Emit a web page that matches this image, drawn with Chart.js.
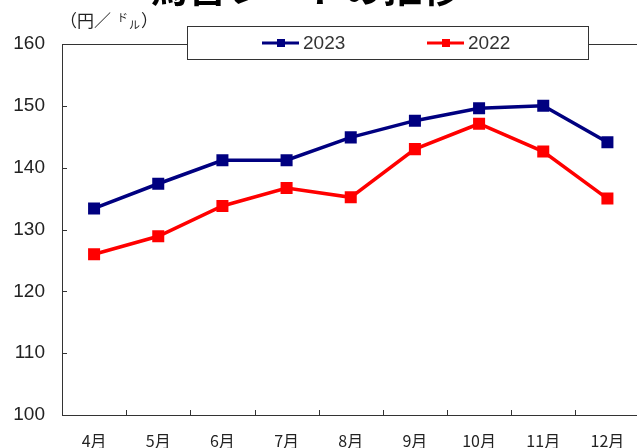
<!DOCTYPE html>
<html lang="ja">
<head>
<meta charset="utf-8">
<title>為替レートの推移</title>
<script src="https://cdn.jsdelivr.net/npm/chart.js@4/dist/chart.umd.min.js"></script>
<style>
  html, body { margin: 0; padding: 0; background: #fff; overflow: hidden; }
  canvas { display: block; }
</style>
</head>
<body>
<canvas id="fxChart" width="648" height="448"></canvas>
<script>
const TITLE = '為替レートの推移';
const months = ['4月', '5月', '6月', '7月', '8月', '9月', '10月', '11月', '12月'];
const rate2023 = [133.4, 137.4, 141.2, 141.2, 144.9, 147.6, 149.6, 150.0, 144.1];
const rate2022 = [126.0, 128.9, 133.8, 136.7, 135.2, 143.0, 147.1, 142.6, 135.0];
const yTicks = [100, 110, 120, 130, 140, 150, 160];

const NAVY = '#000080';
const RED = '#ff0000';
const INK = '#222';
const NUM_FONT = '"Liberation Sans", Arial, sans-serif';
const JP_FONT = '"Noto Sans CJK JP", sans-serif';

// frame, inward ticks, boxed legend, unit note and the (clipped) title
const decorations = {
  id: 'decorations',
  afterDraw(chart) {
    const { ctx, chartArea: a, scales: { x, y } } = chart;
    ctx.save();

    ctx.strokeStyle = '#333';
    ctx.lineWidth = 1;
    ctx.strokeRect(Math.round(a.left) + 0.5, Math.round(a.top) + 0.5,
                   a.right - a.left + 4, Math.round(a.bottom - a.top));

    ctx.beginPath();
    y.ticks.forEach(t => {
      const py = Math.round(y.getPixelForValue(t.value)) + 0.5;
      ctx.moveTo(a.left, py);
      ctx.lineTo(a.left + 5, py);
    });
    for (let i = 1; i < months.length; i++) {
      const px = Math.round((x.getPixelForValue(i - 1) + x.getPixelForValue(i)) / 2) + 0.5;
      ctx.moveTo(px, a.bottom);
      ctx.lineTo(px, a.bottom - 5);
    }
    ctx.stroke();

    // legend box
    ctx.fillStyle = '#fff';
    ctx.fillRect(187, 26, 401, 33);
    ctx.strokeStyle = '#333';
    ctx.strokeRect(187.5, 26.5, 401, 33);
    const legendX = [262, 427];
    const ly = 43;
    chart.data.datasets.forEach((ds, i) => {
      const sx = legendX[i];
      ctx.strokeStyle = ds.borderColor;
      ctx.lineWidth = 3;
      ctx.beginPath();
      ctx.moveTo(sx, ly);
      ctx.lineTo(sx + 37, ly);
      ctx.stroke();
      ctx.fillStyle = ds.borderColor;
      ctx.fillRect(sx + 15, ly - 4, 8, 8);
      ctx.fillStyle = '#333';
      ctx.font = '19px ' + NUM_FONT;
      ctx.textAlign = 'left';
      ctx.textBaseline = 'middle';
      ctx.fillText(ds.label, sx + 41, ly + 1);
    });

    // unit note (円／ドル) with small ド raised and ル lowered
    ctx.fillStyle = INK;
    ctx.textBaseline = 'middle';
    ctx.font = '17px ' + JP_FONT;
    ctx.fillText('（円／', 60, 21);
    ctx.font = '11px ' + JP_FONT;
    ctx.fillText('ド', 117, 18);
    ctx.fillText('ル', 129, 25);
    ctx.font = '17px ' + JP_FONT;
    ctx.fillText('）', 141, 21);

    // title, mostly above the top edge
    ctx.font = 'bold 39px ' + JP_FONT;
    ctx.textAlign = 'center';
    ctx.textBaseline = 'alphabetic';
    ctx.fillStyle = '#000';
    ctx.fillText(TITLE, 305, 2);

    ctx.restore();
  }
};

new Chart(document.getElementById('fxChart'), {
  type: 'line',
  data: {
    labels: months,
    datasets: [
      { label: '2023', data: rate2023, borderColor: NAVY, backgroundColor: NAVY },
      { label: '2022', data: rate2022, borderColor: RED, backgroundColor: RED }
    ]
  },
  options: {
    responsive: false,
    animation: false,
    layout: { padding: { top: 44, right: 0, left: 0, bottom: 0 } },
    elements: {
      line: { borderWidth: 3.5, tension: 0 },
      point: { pointStyle: 'rect', radius: 8.5, hoverRadius: 8.5, borderWidth: 0 }
    },
    plugins: { legend: { display: false }, tooltip: { enabled: false } },
    scales: {
      x: {
        offset: true,
        grid: { display: false, drawTicks: false },
        border: { display: false },
        ticks: { color: INK, font: { family: JP_FONT, size: 16 }, padding: 16, maxRotation: 0 },
        afterFit(scale) { scale.height = 33; }
      },
      y: {
        min: yTicks[0],
        max: yTicks[yTicks.length - 1],
        grid: { display: false, drawTicks: false },
        border: { display: false },
        ticks: { stepSize: yTicks[1] - yTicks[0], color: INK, font: { family: NUM_FONT, size: 19 }, padding: 17 },
        afterFit(scale) { scale.width = 62; }
      }
    }
  },
  plugins: [decorations]
});
</script>
</body>
</html>
